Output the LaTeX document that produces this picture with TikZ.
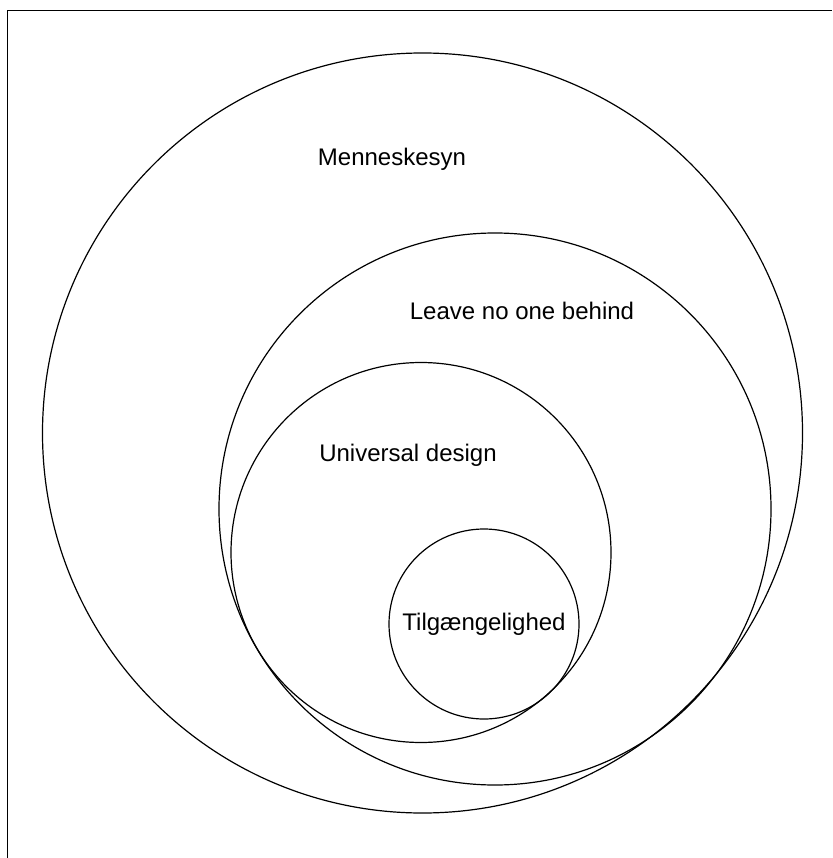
\documentclass[tikz,border=0pt]{standalone}
\usepackage{fontspec}
\setmainfont{Liberation Sans}

\begin{document}
\begin{tikzpicture}[x=1pt, y=-1pt, every node/.style={font=\fontsize{24}{28}\selectfont, inner sep=0pt, anchor=base}]
    \tikzset{ring/.style={draw, line width=1.2pt}}
    \useasboundingbox (0,0) rectangle (832,858);
    \draw[line width=0.9pt] (7,858) -- (7,10) -- (832,10);

    \draw[ring] (422.5,433) circle (380);
    \draw[ring] (495,509) circle (276);
    \draw[ring] (421,552.5) circle (190);
    \draw[ring] (484,624) circle (95);

    \node (menneskesyn) at (392,166) {Menneskesyn};
    \node (leave) at (522,319) {Leave no one behind};
    \node (universal) at (408,461) {Universal design};
    \node (tilg) at (484,630) {Tilgængelighed};
  \end{tikzpicture}
\end{document}
